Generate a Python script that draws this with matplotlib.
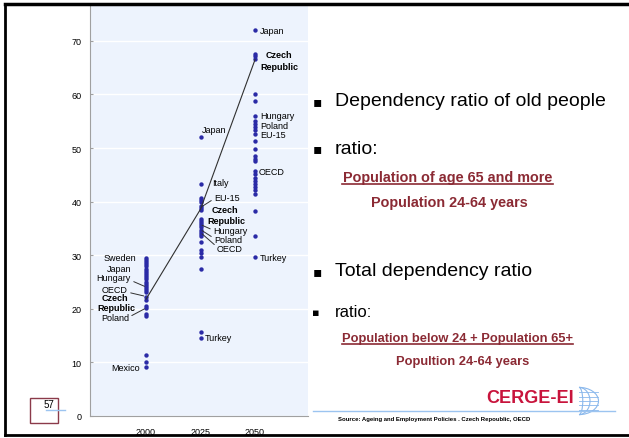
import matplotlib.pyplot as plt
from matplotlib.lines import Line2D
from matplotlib.patches import Rectangle, Arc

# data
years = [2000, 2025, 2050]
vals_2000 = [29.5, 29.1, 28.7, 28.3, 27.9, 27.5, 27.1, 26.7, 26.3, 25.9, 25.5,
             25.1, 24.7, 24.3, 23.9, 23.5, 23.1, 22.2, 21.6, 20.5, 20.1, 19.1,
             18.7, 11.3, 10.0, 9.2]
vals_2025 = [52.0, 43.3, 40.7, 40.3, 39.9, 39.2, 38.8, 38.4, 36.8, 36.4, 36.0,
             35.6, 35.2, 34.8, 34.4, 34.0, 33.6, 32.4, 31.0, 30.4, 29.7, 27.4,
             15.7, 14.6]
vals_2050 = [72.0, 67.6, 67.1, 66.6, 60.1, 58.8, 56.0, 55.1, 54.5, 53.9, 53.3,
             52.7, 51.4, 49.8, 48.5, 48.0, 47.6, 45.7, 45.1, 44.5, 43.9, 43.3,
             42.7, 42.1, 41.5, 38.2, 33.5, 29.6]
czech = [21.8, 38.6, 66.5]

FONT = 'Liberation Sans'
DOT = '#2a2aa6'
RED = '#8b2a34'

fig = plt.figure(figsize=(6.29, 4.39), dpi=100)
W, H = 629, 439

def fx(px):
    return px / W

def fy(py):
    return 1 - py / H

ax = fig.add_axes([fx(90), fy(417), fx(308) - fx(90), fy(6) - fy(417)])
ax.set_facecolor('#edf3fd')
ax.set_xlim(1974.3, 2074.3)
ax.set_ylim(0, 76.7)
ax.set_yticks(range(0, 71, 10))
ax.set_xticks(years)
ax.grid(axis='y', color='white', linewidth=1)
ax.set_axisbelow(True)
for s in ['top', 'right']:
    ax.spines[s].set_visible(False)
for s in ['left', 'bottom']:
    ax.spines[s].set_color('#a0a0a0')
ax.tick_params(axis='y', length=2, direction='in', color='#a0a0a0', labelsize=6.5, pad=6)
ax.tick_params(axis='x', length=0, labelsize=6.5, pad=8)
for lab in ax.get_xticklabels() + ax.get_yticklabels():
    lab.set_fontfamily(FONT)

for yr, vals in zip(years, [vals_2000, vals_2025, vals_2050]):
    ax.scatter([yr] * len(vals), vals, s=10, color=DOT, zorder=3, linewidths=0)
ax.plot(years, czech, color='#303030', linewidth=0.8, zorder=4)

lab_kw = dict(fontsize=6.5, family=FONT, va='center')
lead = dict(arrowstyle='-', color='#303030', linewidth=0.7, shrinkA=0, shrinkB=0)

# 2000 labels
ax.text(1995.4, 29.5, 'Sweden', ha='right', **lab_kw)
ax.text(1993.1, 27.6, 'Japan', ha='right', **lab_kw)
ax.annotate('Hungary', xy=(1999.3, 24.2), xytext=(1993.1, 25.8), ha='right',
            arrowprops=dict(lead, relpos=(1, 0.2)), **lab_kw)
ax.annotate('OECD', xy=(1999.0, 22.4), xytext=(1991.7, 23.6), ha='right',
            arrowprops=dict(lead, relpos=(1, 0.2)), **lab_kw)
ax.text(1991.7, 22.1, 'Czech', ha='right', fontweight='bold', **lab_kw)
ax.text(1995.0, 20.2, 'Republic', ha='right', fontweight='bold', **lab_kw)
ax.annotate('Poland', xy=(1999.3, 20.0), xytext=(1992.2, 18.3), ha='right',
            arrowprops=dict(lead, relpos=(1, 0.6)), **lab_kw)
ax.text(1997.2, 9.0, 'Mexico', ha='right', **lab_kw)

# 2025 labels
ax.text(2025.7, 53.4, 'Japan', ha='left', **lab_kw)
ax.text(2030.3, 43.5, 'Italy', ha='left', **lab_kw)
ax.annotate('EU-15', xy=(2025.3, 39.0), xytext=(2031.2, 40.7), ha='left',
            arrowprops=dict(lead, relpos=(0, 0.4)), **lab_kw)
ax.text(2030.3, 38.5, 'Czech', ha='left', fontweight='bold', **lab_kw)
ax.text(2028.0, 36.4, 'Republic', ha='left', fontweight='bold', **lab_kw)
ax.annotate('Hungary', xy=(2025.7, 35.6), xytext=(2030.7, 34.7), ha='left',
            arrowprops=dict(lead, relpos=(0, 0.5)), **lab_kw)
ax.annotate('Poland', xy=(2025.7, 34.6), xytext=(2031.2, 33.0), ha='left',
            arrowprops=dict(lead, relpos=(0, 0.6)), **lab_kw)
ax.annotate('OECD', xy=(2025.7, 34.0), xytext=(2032.6, 31.2), ha='left',
            arrowprops=dict(lead, relpos=(0, 0.7)), **lab_kw)
ax.text(2027.0, 14.6, 'Turkey', ha='left', **lab_kw)

# 2050 labels
ax.text(2052.3, 71.9, 'Japan', ha='left', **lab_kw)
ax.text(2061.0, 67.4, 'Czech', ha='center', fontweight='bold', **lab_kw)
ax.text(2061.0, 65.3, 'Republic', ha='center', fontweight='bold', **lab_kw)
ax.text(2052.3, 56.0, 'Hungary', ha='left', **lab_kw)
ax.text(2052.3, 54.3, 'Poland', ha='left', **lab_kw)
ax.text(2052.3, 52.6, 'EU-15', ha='left', **lab_kw)
ax.text(2051.8, 45.7, 'OECD', ha='left', **lab_kw)
ax.text(2052.3, 29.5, 'Turkey', ha='left', **lab_kw)

# right side slide text
def bullet(px, py, size):
    fig.text(fx(px), fy(py), '\u25aa', fontsize=size, family='DejaVu Sans',
             ha='center', va='center')

bullet(317, 102, 10)
fig.text(fx(335), fy(102), 'Dependency ratio of old people', fontsize=14,
         family=FONT, va='center')
bullet(317, 149, 10)
fig.text(fx(335), fy(149), 'ratio:', fontsize=14, family=FONT, va='center')
fig.text(fx(448), fy(178), 'Population of age 65 and more', fontsize=10.4,
         family=FONT, fontweight='bold', color=RED, ha='center', va='center')
fig.add_artist(Line2D([fx(342), fx(553)], [fy(185), fy(185)], color=RED, lw=1.2))
fig.text(fx(449), fy(203), 'Population 24-64 years', fontsize=10.4,
         family=FONT, fontweight='bold', color=RED, ha='center', va='center')

bullet(317, 272, 10)
fig.text(fx(335), fy(272), 'Total dependency ratio', fontsize=14,
         family=FONT, va='center')
bullet(316, 313, 8)
fig.text(fx(335), fy(313), 'ratio:', fontsize=12, family=FONT, va='center')
fig.text(fx(457), fy(339), 'Population below 24 + Population 65+', fontsize=9.3,
         family=FONT, fontweight='bold', color=RED, ha='center', va='center')
fig.add_artist(Line2D([fx(342), fx(573)], [fy(345), fy(345)], color=RED, lw=1.2))
fig.text(fx(463), fy(362), 'Popultion 24-64 years', fontsize=9.3,
         family=FONT, fontweight='bold', color=RED, ha='center', va='center')

# logo and source line
fig.add_artist(Line2D([fx(313), fx(615)], [fy(412), fy(412)], color='#9cc4f0', lw=1))
fig.text(fx(530), fy(399), 'CERGE-EI', fontsize=13, family=FONT,
         fontweight='bold', color='#c8143c', ha='center', va='center')
fig.text(fx(338), fy(420), 'Source: Ageing and Employment Policies . Czech Repoublic, OECD',
         fontsize=4.3, family=FONT, fontweight='bold', va='center')
gx, gy = fx(579), fy(402)
for w in [0.012, 0.035, 0.062]:
    fig.add_artist(Arc((gx, gy), w, 0.062, theta1=-90, theta2=90,
                       transform=fig.transFigure, color='#8ab8ec', lw=0.8))
for dy in [-0.02, -0.01, 0.0, 0.01, 0.02]:
    fig.add_artist(Line2D([gx, gx + 0.03], [gy + dy, gy + dy], color='#8ab8ec', lw=0.6))

# page number box
fig.add_artist(Rectangle((fx(30), fy(424)), fx(58) - fx(30), fy(399) - fy(424),
                         transform=fig.transFigure, fill=False,
                         edgecolor='#8b3a4a', lw=1))
fig.text(fx(54), fy(405), '57', fontsize=7, family=FONT, ha='right', va='center')
fig.add_artist(Line2D([fx(46), fx(65)], [fy(411), fy(411)], color='#9cc4f0', lw=1))

# slide frame
fig.add_artist(Line2D([fx(5), fx(629)], [fy(5), fy(5)], color='black', lw=2.5))
fig.add_artist(Line2D([fx(5), fx(629)], [fy(436), fy(436)], color='black', lw=2))
fig.add_artist(Line2D([fx(5), fx(5)], [fy(5), fy(436)], color='black', lw=2))

fig.savefig('out.png', dpi=100)
